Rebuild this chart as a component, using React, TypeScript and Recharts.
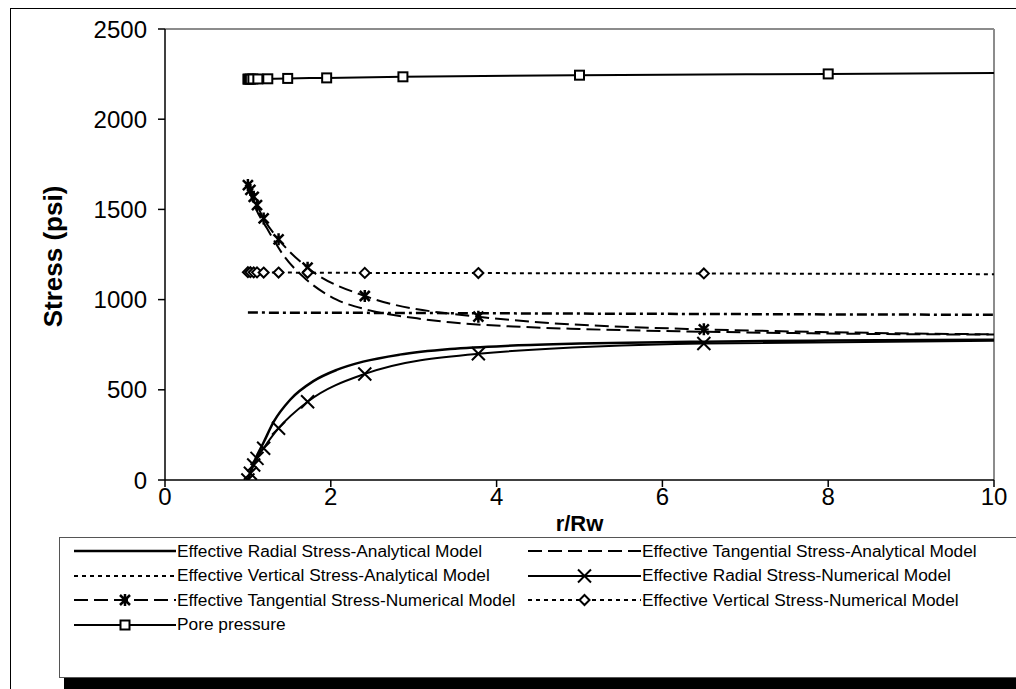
import React from "react"
import { LineChart, Line, XAxis, YAxis, ReferenceLine } from "recharts"

// r/Rw positions and stresses (psi)
const radialAnaR = [1.0, 1.05, 1.106, 1.186, 1.31, 1.51, 1.79, 2.07, 2.39, 2.83, 3.44, 4.2, 5.0, 6.5, 8.0, 10.0]
const radialAnaS = [0, 72, 132, 205, 322, 445, 548, 610, 656, 695, 726, 745, 756, 767, 773, 778]

const tangAnaR = [1.0, 1.1, 1.23, 1.43, 1.71, 2.07, 2.43, 3.04, 3.44, 4.2, 5.0, 6.5, 8.0, 10.0]
const tangAnaS = [1625, 1500, 1395, 1245, 1109, 1000, 945, 896, 874, 851, 837, 822, 812, 806]

const vertAnaR = [1.0, 2.0, 4.0, 6.0, 8.0, 10.0]
const vertAnaS = [928, 927, 924, 921, 918, 916]

const numR = [1.0, 1.03, 1.07, 1.11, 1.19, 1.37, 1.72, 2.41, 3.78, 6.5, 12.0]
const radialNumS = [0, 37, 83, 120, 176, 287, 434, 588, 700, 757, 780]
const tangNumS = [1635, 1608, 1570, 1524, 1450, 1334, 1177, 1020, 905, 835, 800]
const vertNumS = [1152, 1152, 1151, 1151, 1150, 1150, 1149, 1148, 1147, 1145, 1138]

const poreR = [1.0, 1.01, 1.03, 1.06, 1.12, 1.24, 1.48, 1.95, 2.87, 5.0, 8.0, 12.0]
const poreS = [2222, 2222, 2222, 2223, 2223, 2224, 2226, 2229, 2235, 2244, 2251, 2260]

const xTicks = [0, 2, 4, 6, 8, 10]
const yTicks = [0, 500, 1000, 1500, 2000, 2500]

const labels = [
  "Effective Radial Stress-Analytical Model",
  "Effective Tangential Stress-Analytical Model",
  "Effective Vertical Stress-Analytical Model",
  "Effective Radial Stress-Numerical Model",
  "Effective Tangential Stress-Numerical Model",
  "Effective Vertical Stress-Numerical Model",
  "Pore pressure",
]

const toPts = (rs: number[], ss: number[]) => rs.map((r, i) => ({ r, s: ss[i] }))

const FONT = "'Liberation Sans', Arial, sans-serif"

function XMark(props: any) {
  const { cx, cy } = props
  if (cx == null || cy == null) return null
  const h = 6.5
  return (
    <path d={`M${cx - h},${cy - h}L${cx + h},${cy + h}M${cx - h},${cy + h}L${cx + h},${cy - h}`} stroke="#000" strokeWidth={2} fill="none" />
  )
}

function StarMark(props: any) {
  const { cx, cy } = props
  if (cx == null || cy == null) return null
  const h = 5
  return (
    <path
      d={`M${cx - h},${cy - h}L${cx + h},${cy + h}M${cx - h},${cy + h}L${cx + h},${cy - h}M${cx},${cy - h - 1}L${cx},${cy + h + 1}`}
      stroke="#000"
      strokeWidth={2.5}
      fill="none"
    />
  )
}

function DiamondMark(props: any) {
  const { cx, cy } = props
  if (cx == null || cy == null) return null
  const h = 5
  return <path d={`M${cx},${cy - h}L${cx + h},${cy}L${cx},${cy + h}L${cx - h},${cy}Z`} stroke="#000" strokeWidth={2} fill="#fff" />
}

function SquareMark(props: any) {
  const { cx, cy } = props
  if (cx == null || cy == null) return null
  const h = 4.5
  return <rect x={cx - h} y={cy - h} width={h * 2} height={h * 2} stroke="#000" strokeWidth={2} fill="#fff" />
}

type Sample = { dash?: string; width: number; Mark?: (p: any) => React.ReactElement | null }

const samples: Sample[] = [
  { width: 2.5 },
  { dash: "14 6", width: 2 },
  { dash: "4 4", width: 2 },
  { width: 2, Mark: XMark },
  { dash: "14 6", width: 2, Mark: StarMark },
  { dash: "4 4", width: 2, Mark: DiamondMark },
  { width: 2, Mark: SquareMark },
]

function LegendRow({ idx, w }: { idx: number; w: number }) {
  const s = samples[idx]
  return (
    <div style={{ display: "flex", alignItems: "center", height: 24.5 }}>
      <svg width={w} height={16} style={{ flex: "none" }}>
        <line x1={0} y1={8} x2={w} y2={8} stroke="#000" strokeWidth={s.width} strokeDasharray={s.dash} />
        {s.Mark ? <s.Mark cx={w / 2} cy={8} /> : null}
      </svg>
      <span style={{ marginLeft: 1, whiteSpace: "nowrap" }}>{labels[idx]}</span>
    </div>
  )
}

export default function App() {
  const order = [0, 1, 2, 3, 4, 5, 6]
  return (
    <div style={{ position: "absolute", left: 0, top: 0, width: 1016, height: 689, overflow: "hidden", background: "#fff", fontFamily: FONT }}>
      <div style={{ position: "absolute", left: 10, top: 8, width: 1100, height: 800, border: "1px solid #000" }} />
      <div style={{ position: "absolute", left: 0, top: 0 }}>
        <LineChart width={1016} height={689} margin={{ top: 29, right: 22, bottom: 179, left: 105 }}>
          <XAxis
            type="number"
            dataKey="r"
            domain={[0, 10]}
            ticks={xTicks}
            allowDataOverflow
            height={30}
            tickSize={7}
            tickMargin={1}
            tick={{ fontSize: 24, fill: "#000", fontFamily: FONT }}
            axisLine={{ stroke: "#000", strokeWidth: 1.5 }}
            tickLine={{ stroke: "#000", strokeWidth: 1.5 }}
            label={(p: any) => {
              const vb = p.viewBox
              const cx = vb.x + vb.width / 2
              return (
                <text x={cx} y={531} textAnchor="middle" fontSize={22} fontWeight="bold" fill="#000" fontFamily={FONT}>
                  r/Rw
                </text>
              )
            }}
          />
          <YAxis
            type="number"
            dataKey="s"
            domain={[0, 2500]}
            ticks={yTicks}
            allowDataOverflow
            width={60}
            tickSize={7}
            tickMargin={11}
            tick={{ fontSize: 24, fill: "#000", fontFamily: FONT }}
            axisLine={{ stroke: "#000", strokeWidth: 1.5 }}
            tickLine={{ stroke: "#000", strokeWidth: 1.5 }}
            label={(p: any) => {
              const vb = p.viewBox
              const cy = vb.y + vb.height / 2 + 2
              return (
                <text x={62} y={cy} transform={`rotate(-90 62 ${cy})`} textAnchor="middle" fontSize={26} fontWeight="bold" fill="#000" fontFamily={FONT}>
                  Stress (psi)
                </text>
              )
            }}
          />
          <ReferenceLine y={2500} stroke="#8c8c8c" strokeWidth={2} />
          <ReferenceLine x={10} stroke="#8c8c8c" strokeWidth={2} />
          <Line data={toPts(radialAnaR, radialAnaS)} dataKey="s" type="monotone" stroke="#000" strokeWidth={2.5} dot={false} isAnimationActive={false} />
          <Line data={toPts(tangAnaR, tangAnaS)} dataKey="s" type="monotone" stroke="#000" strokeWidth={2} strokeDasharray="14 6" dot={false} isAnimationActive={false} />
          <Line data={toPts(vertAnaR, vertAnaS)} dataKey="s" type="monotone" stroke="#000" strokeWidth={2.5} strokeDasharray="10 4 3 4" dot={false} isAnimationActive={false} />
          <Line data={toPts(numR, radialNumS)} dataKey="s" type="monotone" stroke="#000" strokeWidth={2} dot={<XMark />} isAnimationActive={false} />
          <Line data={toPts(numR, tangNumS)} dataKey="s" type="monotone" stroke="#000" strokeWidth={2} strokeDasharray="14 6" dot={<StarMark />} isAnimationActive={false} />
          <Line data={toPts(numR, vertNumS)} dataKey="s" type="monotone" stroke="#000" strokeWidth={2} strokeDasharray="4 4" dot={<DiamondMark />} isAnimationActive={false} />
          <Line data={toPts(poreR, poreS)} dataKey="s" type="monotone" stroke="#000" strokeWidth={2} dot={<SquareMark />} isAnimationActive={false} />
        </LineChart>
      </div>
      <div
        style={{
          position: "absolute",
          left: 59,
          top: 537,
          width: 980,
          height: 141,
          border: "1px solid #555",
          background: "#fff",
          boxShadow: "5px 12px 0 #000",
          fontSize: 17.3,
          boxSizing: "border-box",
          padding: "1px 0 0 14px",
        }}
      >
        <div style={{ display: "grid", gridTemplateColumns: "454px 480px" }}>
          {order.map((i) => (
            <LegendRow key={i} idx={i} w={i % 2 === 0 ? 102 : 113} />
          ))}
        </div>
      </div>
    </div>
  )
}
